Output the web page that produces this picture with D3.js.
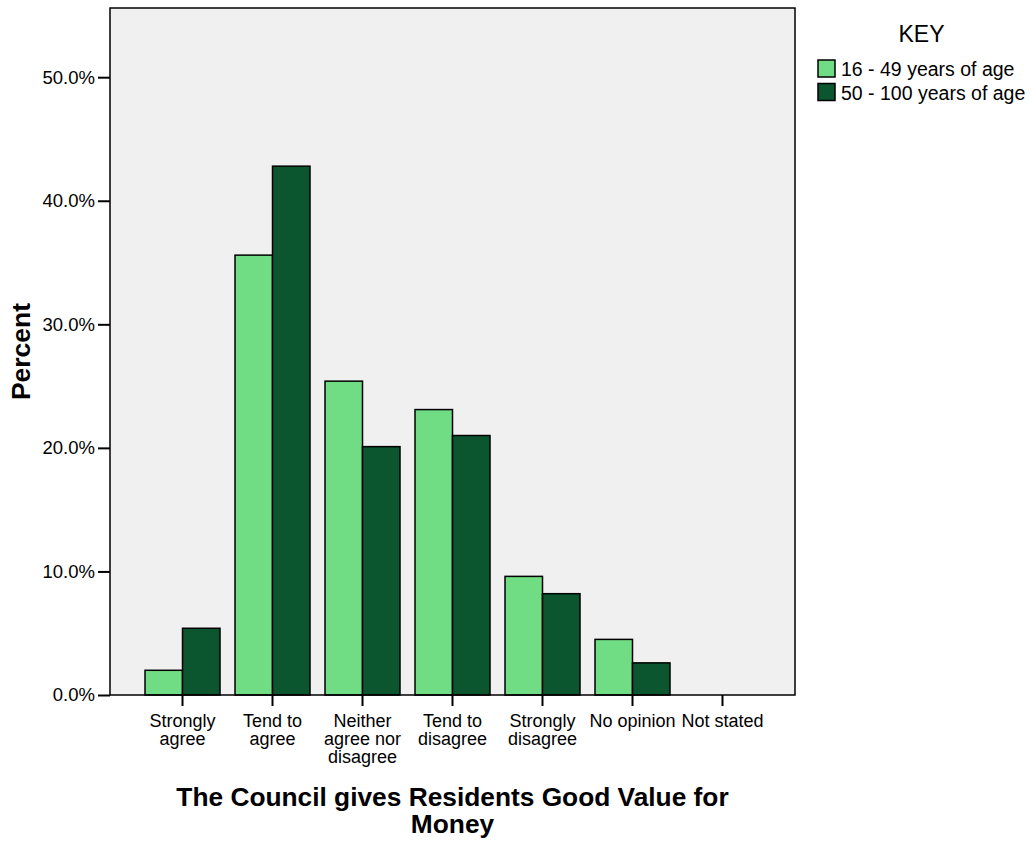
<!DOCTYPE html>
<html>
<head>
<meta charset="utf-8">
<script src="https://cdn.jsdelivr.net/npm/d3@7"></script>
<style>
  html, body { margin: 0; padding: 0; background: #ffffff; }
  svg { display: block; font-family: "Liberation Sans", Arial, Helvetica, sans-serif; }
</style>
</head>
<body>
<svg id="chart" width="1032" height="842"></svg>
<script>
const categories = ["Strongly agree", "Tend to agree", "Neither agree nor disagree", "Tend to disagree", "Strongly disagree", "No opinion", "Not stated"];
const categoryLines = [["Strongly", "agree"], ["Tend to", "agree"], ["Neither", "agree nor", "disagree"], ["Tend to", "disagree"], ["Strongly", "disagree"], ["No opinion"], ["Not stated"]];
const seriesNames = ["16 - 49 years of age", "50 - 100 years of age"];
const young = [2.0, 35.6, 25.4, 23.1, 9.6, 4.5, 0.0];
const older = [5.4, 42.8, 20.1, 21.0, 8.2, 2.6, 0.0];
const yTicks = [0, 10, 20, 30, 40, 50];
const colors = ["#70dc84", "#0b562e"];

const svg = d3.select("#chart");
const plot = { left: 110, top: 8, right: 795, bottom: 695 };

const x = d3.scaleBand().domain(categories).range([plot.left, plot.right]).paddingInner(0.1667).paddingOuter(0.389);
const xs = d3.scaleBand().domain(seriesNames).range([0, x.bandwidth()]);
const y = d3.scaleLinear().domain([0, 55.6]).range([plot.bottom, plot.top]);

// plot background
svg.append("rect")
  .attr("x", plot.left).attr("y", plot.top)
  .attr("width", plot.right - plot.left).attr("height", plot.bottom - plot.top)
  .attr("fill", "#f0f0f0");

// bars
const data = categories.map((c, i) => ({ c, vals: [young[i], older[i]] }));
const groups = svg.append("g").selectAll("g").data(data).join("g")
  .attr("transform", d => `translate(${x(d.c)},0)`);
groups.selectAll("rect").data(d => d.vals.map((v, j) => ({ s: seriesNames[j], v, j })))
  .join("rect")
  .attr("x", d => xs(d.s))
  .attr("y", d => y(d.v))
  .attr("width", xs.bandwidth())
  .attr("height", d => y(0) - y(d.v))
  .attr("fill", d => colors[d.j])
  .attr("stroke", "#000")
  .attr("stroke-width", 1.5);

// frame
svg.append("rect")
  .attr("x", plot.left).attr("y", plot.top)
  .attr("width", plot.right - plot.left).attr("height", plot.bottom - plot.top)
  .attr("fill", "none").attr("stroke", "#000").attr("stroke-width", 1.5);

// y axis
const yAxis = svg.append("g").attr("transform", `translate(${plot.left},0)`)
  .call(d3.axisLeft(y).tickValues(yTicks).tickFormat(d => d.toFixed(1) + "%").tickSize(12).tickPadding(3));
yAxis.select(".domain").remove();
yAxis.selectAll(".tick line").attr("stroke", "#000").attr("stroke-width", 2);
yAxis.selectAll(".tick text").attr("font-size", "18.5px").attr("fill", "#000")
  .attr("font-family", '"Liberation Sans", Arial, sans-serif');

// x axis
const xAxis = svg.append("g").attr("transform", `translate(0,${plot.bottom})`)
  .call(d3.axisBottom(x).tickSize(11).tickFormat(""));
xAxis.select(".domain").remove();
xAxis.selectAll(".tick line").attr("stroke", "#000").attr("stroke-width", 2);
xAxis.selectAll(".tick").each(function(d, i) {
  const t = d3.select(this).append("text")
    .attr("text-anchor", "middle").attr("fill", "#000")
    .attr("font-size", "18px")
    .attr("font-family", '"Liberation Sans", Arial, sans-serif');
  categoryLines[i].forEach((line, k) => {
    t.append("tspan").attr("x", 0).attr("y", 31.5 + k * 18.3).text(line);
  });
});

// y title
svg.append("text")
  .attr("transform", `translate(30,${(plot.top + plot.bottom) / 2}) rotate(-90)`)
  .attr("text-anchor", "middle").attr("font-size", "26.5px").attr("font-weight", "bold")
  .text("Percent");

// x title
const xt = svg.append("text").attr("text-anchor", "middle").attr("font-size", "26.3px").attr("font-weight", "bold");
xt.append("tspan").attr("x", (plot.left + plot.right) / 2).attr("y", 806).text("The Council gives Residents Good Value for");
xt.append("tspan").attr("x", (plot.left + plot.right) / 2).attr("y", 833).text("Money");

// legend
const lg = svg.append("g");
lg.append("text").attr("x", 921.5).attr("y", 41.5).attr("text-anchor", "middle").attr("font-size", "23px").text("KEY");
seriesNames.forEach((s, i) => {
  lg.append("rect").attr("x", 818).attr("y", 60 + i * 23.5).attr("width", 17).attr("height", 17)
    .attr("fill", colors[i]).attr("stroke", "#000").attr("stroke-width", 1.5);
  lg.append("text").attr("x", 841).attr("y", 76 + i * 23.5).attr("font-size", "19.5px").text(s);
});
</script>
</body>
</html>
